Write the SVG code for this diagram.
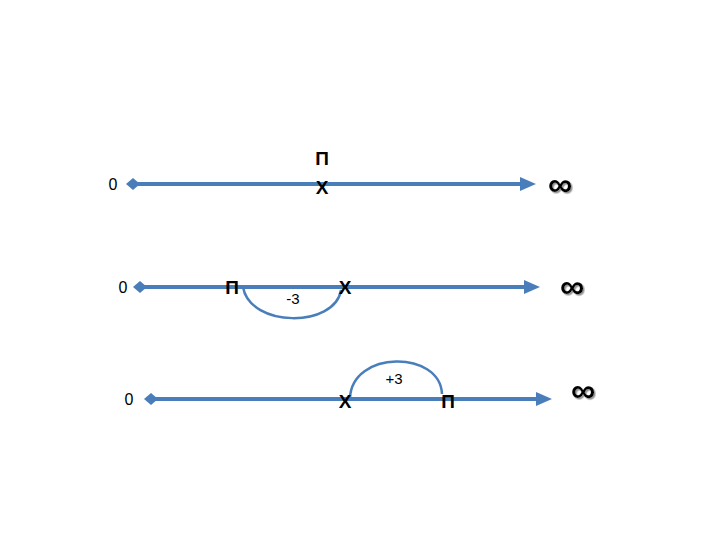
<svg xmlns="http://www.w3.org/2000/svg" width="720" height="540" viewBox="0 0 720 540">
<defs>
<filter id="sh" x="-20%" y="-20%" width="150%" height="150%">
  <feDropShadow dx="1.5" dy="1.5" stdDeviation="0.6" flood-color="#888" flood-opacity="0.9"/>
</filter>
</defs>
<style>
.ln{stroke:#4a7ebb;stroke-width:4;fill:none}
.arc{stroke:#4a7ebb;stroke-width:2.5;fill:none}
.hd{fill:#4a7ebb}
.t{font-family:"Liberation Sans",Arial,sans-serif;fill:#000;text-anchor:middle}
.lbl{font-size:19px;font-weight:bold}
.z{font-size:16px}
.n{font-size:15px}
.inf{font-size:34px;font-weight:bold;filter:url(#sh)}
</style>
<rect width="720" height="540" fill="#fff"/>
<g id="connectors">
  <g id="axis1">
    <line class="ln" x1="133" y1="184" x2="522" y2="184"/>
    <polygon class="hd" points="126,184 133,178 140,184 133,190"/>
    <polygon class="hd" points="520,177 536,184 520,191"/>
  </g>
  <g id="axis2">
    <line class="ln" x1="140" y1="287" x2="526" y2="287"/>
    <polygon class="hd" points="133,287 140,281 147,287 140,293"/>
    <polygon class="hd" points="524,280 540,287 524,294"/>
  </g>
  <g id="axis3">
    <line class="ln" x1="151" y1="399" x2="538" y2="399"/>
    <polygon class="hd" points="144,399 151,393 158,399 151,405"/>
    <polygon class="hd" points="536,392 552,399 536,406"/>
  </g>
  <path id="arc-minus" class="arc" d="M243,287 C250,328 335,328 341,290"/>
  <path id="arc-plus" class="arc" d="M350,398 C352,350 440,350 442,394"/>
</g>
<g id="row1">
  <text class="t z" x="113" y="190">0</text>
  <text class="t lbl" x="322" y="165">П</text>
  <text class="t lbl" x="322" y="194">Х</text>
  <text class="t inf" x="560" y="196">∞</text>
</g>
<g id="row2">
  <text class="t z" x="123" y="293">0</text>
  <text class="t lbl" x="232" y="294">П</text>
  <text class="t lbl" x="345" y="294">Х</text>
  <text class="t n" x="293" y="304">-3</text>
  <text class="t inf" x="572" y="298">∞</text>
</g>
<g id="row3">
  <text class="t z" x="129" y="405">0</text>
  <text class="t lbl" x="345" y="408">Х</text>
  <text class="t lbl" x="448" y="408">П</text>
  <text class="t n" x="394" y="384">+3</text>
  <text class="t inf" x="583" y="402">∞</text>
</g>
</svg>
